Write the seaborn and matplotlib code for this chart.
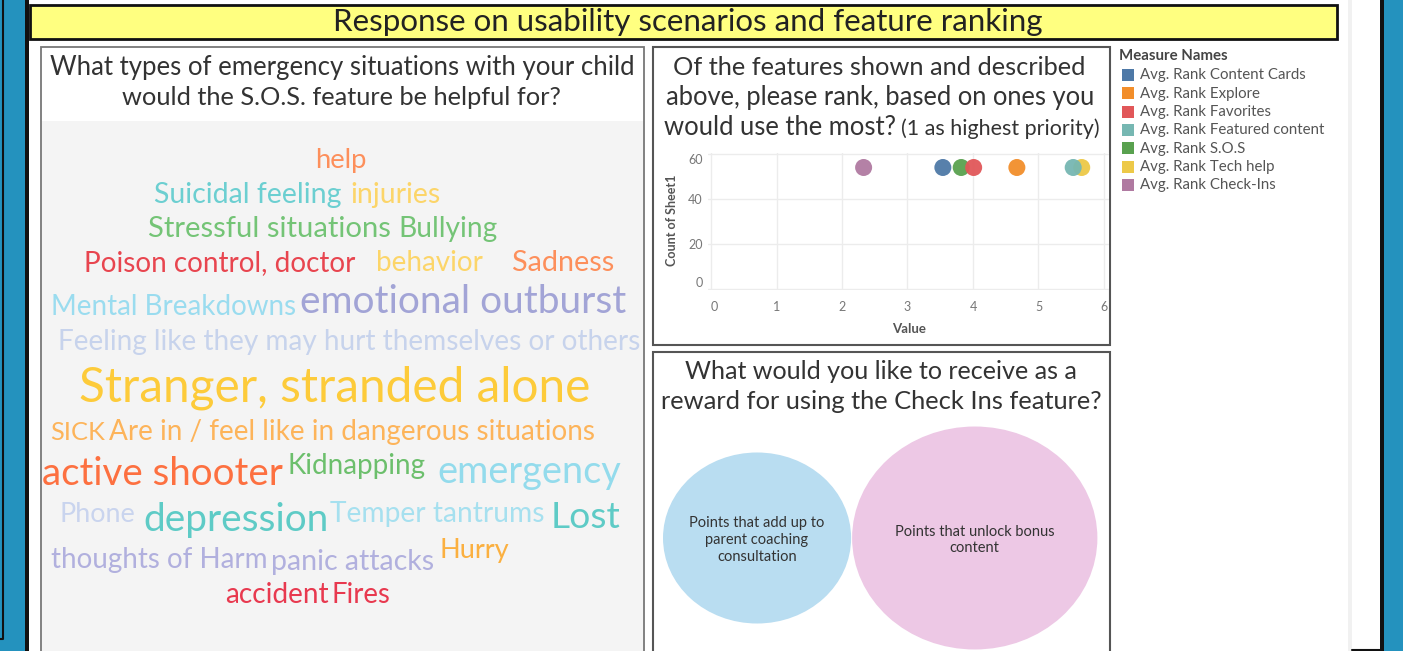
import matplotlib
matplotlib.use("Agg")
import matplotlib.pyplot as plt
import seaborn as sns
import numpy as np
import pandas as pd
from matplotlib.patches import Rectangle, Ellipse

W, H, DPI = 1403, 651, 100
FONT = ["Lato", "DejaVu Sans"]

# ---- data ----
measure_names = ["Avg. Rank Content Cards", "Avg. Rank Explore", "Avg. Rank Favorites",
                 "Avg. Rank Featured content", "Avg. Rank S.O.S", "Avg. Rank Tech help",
                 "Avg. Rank Check-Ins"]
measure_colors = ["#4e79a7", "#f28e2b", "#e15759", "#76b7b2", "#59a14f", "#edc948", "#b07aa1"]
avg_rank = [3.54, 4.67, 4.01, 5.53, 3.82, 5.66, 2.33]
sheet_count = [54, 54, 54, 54, 54, 54, 54]
# order in which the marks are stacked (later = on top)
draw_order = [6, 5, 3, 0, 4, 2, 1]

reward_options = ["Points that add up to\nparent coaching\nconsultation",
                  "Points that unlock bonus\ncontent"]
reward_counts = [20, 34]
reward_colors = ["#b9ddf1", "#edc8e5"]

words = ["help", "Suicidal feeling", "injuries", "Stressful situations", "Bullying",
         "Poison control, doctor", "behavior", "Sadness", "Mental Breakdowns",
         "emotional outburst", "Feeling like they may hurt themselves or others",
         "Stranger, stranded alone", "SICK", "Are in / feel like in dangerous situations",
         "active shooter", "Kidnapping", "emergency", "Phone", "depression",
         "Temper tantrums", "Lost", "thoughts of Harm", "panic attacks", "Hurry",
         "accident", "Fires"]
word_colors = ["#fd8f5b", "#6ccfd1", "#fcd569", "#74c476", "#74c476",
               "#e8454f", "#fcd569", "#fd8f5b", "#9adcef",
               "#a2a4d6", "#c7d3ec",
               "#fdcb3a", "#fdb45a", "#fdb45a",
               "#fd7040", "#6cbf6c", "#93dbec", "#c9d4ee", "#5ecbc6",
               "#a6e0ef", "#5ecbc6", "#b1b0de", "#b1b0de", "#fbb040",
               "#e8394f", "#e8394f"]

# word cloud layout in pixels: left, right, baseline
word_layout = [(315, 367, 168), (153.5, 341.5, 203), (350, 441, 203), (148, 392, 237),
               (398, 497, 237), (84, 355, 271), (375.5, 482.5, 271), (512, 614, 271),
               (50.6, 295, 315), (300, 627, 313), (58, 642, 350), (79, 593, 402),
               (50, 104.6, 440), (109, 595, 440), (42, 283, 485), (287.5, 425.7, 474),
               (437, 621, 483), (60, 136, 522), (143, 328.6, 531), (330.5, 545, 522),
               (551, 620.6, 528), (50.6, 267, 568), (271, 434, 570), (439, 509, 558),
               (225, 329, 603), (332, 391, 603)]

sns.set_style("white")
plt.rcParams["font.family"] = FONT

fig = plt.figure(figsize=(W / DPI, H / DPI), dpi=DPI)
renderer = fig.canvas.get_renderer()

bg = fig.add_axes([0, 0, 1, 1])
bg.set_xlim(0, W)
bg.set_ylim(H, 0)
bg.axis("off")


def fit_text(x, y, s, width, color="#333333", ha="left", size=20, **kw):
    t = bg.text(x, y, s, fontsize=size, color=color, ha=ha, va="baseline", **kw)
    w = t.get_window_extent(renderer).width
    t.set_fontsize(size * width / w)
    return t


def rect(x0, y0, x1, y1, **kw):
    bg.add_patch(Rectangle((x0, y0), x1 - x0, y1 - y0, **kw))


# frame of the dashboard
rect(0, 0, 25, H, facecolor="#2492be", edgecolor="none")
rect(25, 0, 29, H, facecolor="#111111", edgecolor="none")
bg.plot([2.5, 2.5, 0], [0, 639, 639], color="#111111", lw=1.5)
rect(1348, 0, 1352, H, facecolor="#f1f1f1", edgecolor="none")
rect(1380, 0, 1384, H, facecolor="#111111", edgecolor="none")
rect(1384, 0, W, H, facecolor="#2492be", edgecolor="none")
bg.plot([1352, 1380], [649.5, 649.5], color="#111111", lw=1.5)

# banner
rect(30, 5, 1337, 39, facecolor="#ffff80", edgecolor="#111111", lw=2)
fit_text(333, 31.5, "Response on usability scenarios and feature ranking", 710,
         color="#222222")

# left panel: word cloud
rect(40.5, 46.5, 644, 660, facecolor="white", edgecolor="#777777", lw=1.3)
rect(41.5, 121, 643, 660, facecolor="#f4f4f4", edgecolor="none")
fit_text(50.4, 75, "What types of emergency situations with your child", 584)
fit_text(122, 105, "would the S.O.S. feature be helpful for?", 439.6)
for word, col, (x0, x1, yb) in zip(words, word_colors, word_layout):
    fit_text(x0, yb, word, x1 - x0, color=col)

# middle top panel: rank scatter
rect(652.5, 46.5, 1110, 344.5, facecolor="white", edgecolor="#555555", lw=1.5)
fit_text(673, 75, "Of the features shown and described", 415)
fit_text(666, 105, "above, please rank, based on ones you", 429.5)
fit_text(664, 135, "would use the most?", 233)
fit_text(900.6, 135, "(1 as highest priority)", 198.4)

ax_left, ax_right, ax_top, ax_bottom = 708, 1108.5, 153, 290
ax = fig.add_axes([ax_left / W, (H - ax_bottom) / H,
                   (ax_right - ax_left) / W, (ax_bottom - ax_top) / H])
rank_df = pd.DataFrame({"Measure": measure_names, "Value": avg_rank,
                        "Count": sheet_count}).iloc[draw_order]
sns.scatterplot(data=rank_df, x="Value", y="Count", hue="Measure",
                hue_order=measure_names, palette=measure_colors, s=150,
                edgecolor="none", alpha=0.95, legend=False, ax=ax, zorder=3)
ax.set_facecolor("white")
ax.set_xlim(-0.046, 6.069)
ax.set_ylim(-0.44, 60.44)
ax.set_xticks(range(0, 7))
ax.set_yticks([0, 20, 40, 60])
ax.grid(True, color="#ececec", lw=1)
for sp in ax.spines.values():
    sp.set_visible(False)
ax.tick_params(length=0, labelsize=9, labelcolor="#777777")
ax.tick_params(axis="x", pad=8)
ax.tick_params(axis="y", pad=4)
ax.set_xlabel("Value", fontsize=9.5, color="#555555", fontweight="bold")
ax.set_ylabel("Count of Sheet1", fontsize=9, color="#555555", fontweight="bold")
ax.xaxis.set_label_coords(0.502, -0.24)
ax.yaxis.set_label_coords(-0.075, 0.51)
ylabels = ax.get_yticklabels()
ylabels[0].set_va("bottom")
ylabels[-1].set_va("top")
ax.get_xticklabels()[0].set_ha("left")

# legend
t = fit_text(1119, 60.5, "Measure Names", 108.5, color="#444444", fontweight="bold")
leg_size = None
for i, (name, col) in enumerate(zip(measure_names, measure_colors)):
    yc = 75 + i * 18.33
    rect(1121.5, yc - 6, 1134, yc + 6, facecolor=col, edgecolor="none")
    if leg_size is None:
        tt = fit_text(1139.7, yc + 4.5, name, 166.3, color="#555555")
        leg_size = tt.get_fontsize()
    else:
        bg.text(1139.7, yc + 4.5, name, fontsize=leg_size, color="#555555", va="baseline")

# middle bottom panel: reward bubbles
rect(652.5, 352, 1110, 660, facecolor="white", edgecolor="#555555", lw=1.5)
fit_text(684.6, 379, "What would you like to receive as a", 394)
fit_text(660.6, 409, "reward for using the Check Ins feature?", 443)

k, stretch, cy = 19.12, 1.1, 538
cx = 663
for i, (label, cnt, col) in enumerate(zip(reward_options, reward_counts, reward_colors)):
    r = k * np.sqrt(cnt)
    cx += r * stretch + (1 if i else 0)
    bg.add_patch(Ellipse((cx, cy), 2 * r * stretch, 2 * r, facecolor=col, edgecolor="none"))
    bg.text(cx, cy + 2, label, ha="center", va="center", fontsize=10.5,
            color="#333333", linespacing=1.25)
    cx += r * stretch

fig.savefig("out.png", dpi=DPI)
